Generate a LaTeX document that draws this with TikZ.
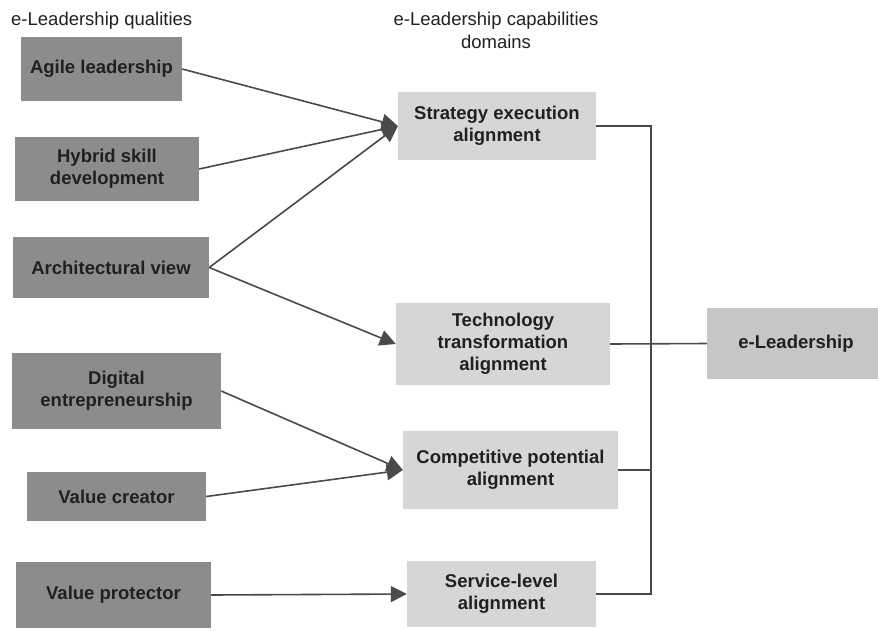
\documentclass[tikz,border=0pt]{standalone}
\usepackage{fontspec}
\setmainfont{Liberation Sans}
\usetikzlibrary{arrows.meta}
\definecolor{darkbox}{HTML}{8B8C8E}
\definecolor{lightbox}{HTML}{D5D6D8}
\definecolor{leadbox}{HTML}{C5C6C8}
\definecolor{linecol}{HTML}{4A4A4C}
\definecolor{txt}{HTML}{231F20}
\tikzset{
  qual/.style={fill=darkbox, inner sep=0pt, align=center, text=txt,
    font=\fontsize{18.5}{22}\selectfont\bfseries},
  dom/.style={fill=lightbox, inner sep=0pt, align=center, text=txt,
    font=\fontsize{18.5}{22}\selectfont\bfseries},
  title/.style={inner sep=0pt, align=center, text=txt,
    font=\fontsize{18.5}{23}\selectfont},
  conn/.style={draw=linecol, line width=1.6pt},
  arr/.style={conn, -{Triangle[length=16pt,width=16pt]}}
}
\begin{document}
\begin{tikzpicture}[x=1pt,y=-1pt]
\useasboundingbox (0,0) rectangle (878,630);
% titles
\node[title, anchor=base west] (t1) at (11,25) {e-Leadership qualities};
\node[title, anchor=base] (t2) at (496,25) {e-Leadership capabilities};
\node[title, anchor=base] (t3) at (496,48) {domains};
% qualities
\node[qual, minimum width=161pt, minimum height=64pt] (agile) at (101.5,69) {Agile leadership};
\node[qual, minimum width=184pt, minimum height=64pt] (hybrid) at (107,169) {Hybrid skill\\development};
\node[qual, minimum width=196pt, minimum height=61pt] (arch) at (111,267.5) {Architectural view};
\node[qual, minimum width=209pt, minimum height=76pt] (digital) at (116.5,391) {Digital\\entrepreneurship};
\node[qual, minimum width=179pt, minimum height=49pt] (creator) at (116.5,496.5) {Value creator};
\node[qual, minimum width=195pt, minimum height=66pt] (protector) at (113.5,595) {Value protector};
% domains
\node[dom, minimum width=198pt, minimum height=68pt] (strat) at (497,126) {Strategy execution\\alignment};
\node[dom, minimum width=214pt, minimum height=82pt] (tech) at (503,344) {Technology\\transformation\\alignment};
\node[dom, minimum width=215pt, minimum height=78pt] (comp) at (510.5,470) {Competitive potential\\alignment};
\node[dom, minimum width=189pt, minimum height=66pt] (serv) at (501.5,594) {Service-level\\alignment};
% e-Leadership
\fill[leadbox] (707,308) rectangle (880,379);
\node[dom, fill=none] (lead) at (796,343.5) {e-Leadership};
\coordinate (leadw) at (707,343.5);
% bus
\coordinate (bb) at (651,594);
% arrows
\draw[arr] (agile.east) -- (strat.west);
\draw[arr] (hybrid.east) -- (strat.west);
\draw[arr] (arch.east) -- (strat.west);
\draw[arr] (arch.east) -- (tech.west);
\draw[arr] (digital.east) -- (comp.west);
\draw[arr] (creator.east) -- (comp.west);
\draw[arr] (protector.east) -- (serv.west);
% connectors to e-Leadership
\draw[conn] (strat.east) -| (bb) -- (serv.east);
\draw[conn] (comp.east) -- (comp.east -| bb);
\draw[conn] (tech.east) -- (leadw);
\end{tikzpicture}
\end{document}
